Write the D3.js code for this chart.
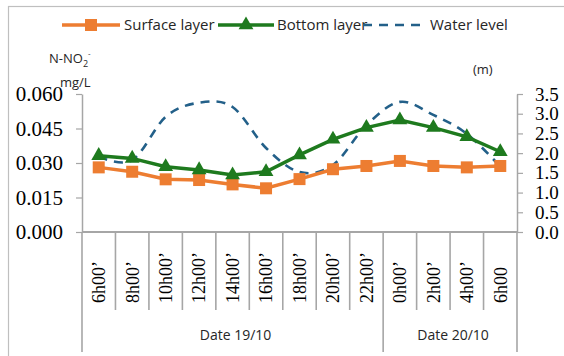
<!DOCTYPE html>
<html>
<head>
<meta charset="utf-8">
<script src="https://cdn.jsdelivr.net/npm/d3@7"></script>
<style>
  html, body { margin: 0; padding: 0; background: #fff; }
  svg { display: block; }
</style>
</head>
<body>
<svg id="chart" width="564" height="356"></svg>
<script>
// Sampling times over the two days
const times = ["6h00’", "8h00’", "10h00’", "12h00’", "14h00’", "16h00’", "18h00’",
               "20h00’", "22h00’", "0h00’", "2h00’", "4h00’", "6h00"];
// Day groups: label and how many sampling times belong to each
const days = [
  { label: "Date 19/10", count: 9 },
  { label: "Date 20/10", count: 4 }
];
// N-NO2- concentration (mg/L)
const surface = [0.0281, 0.0262, 0.0229, 0.0226, 0.0207, 0.0190, 0.0230, 0.0273, 0.0287, 0.0309, 0.0287, 0.0281, 0.0287];
const bottom  = [0.0332, 0.0320, 0.0284, 0.0270, 0.0248, 0.0262, 0.0335, 0.0403, 0.0454, 0.0487, 0.0454, 0.0414, 0.0349];
// Water level (m)
const waterLevel = [1.91, 1.82, 2.92, 3.28, 3.17, 2.13, 1.52, 1.70, 2.71, 3.30, 2.97, 2.49, 1.66];
// Axis ticks
const leftTicks  = [0, 0.015, 0.03, 0.045, 0.06];
const rightTicks = [0, 0.5, 1, 1.5, 2, 2.5, 3, 3.5];

const colors = { surface: "#ED7D31", bottom: "#1E7A1E", water: "#236089", axis: "#A6A6A6" };
const SERIF = "'Liberation Serif', 'DejaVu Serif', serif";
const SANS = "'Open Sans', 'Liberation Sans', sans-serif";

const svg = d3.select("#chart");
const plot = { left: 82, right: 517, top: 94, bottom: 232 };

// Outer frame
svg.append("rect")
  .attr("x", 8.5).attr("y", 6.5)
  .attr("width", 600).attr("height", 400)
  .attr("fill", "none").attr("stroke", "#BFBFBF").attr("stroke-width", 1.2);

const x = d3.scaleBand().domain(times.map((t, i) => i)).range([plot.left, plot.right]).padding(0);
const yL = d3.scaleLinear().domain([0, 0.06]).range([plot.bottom, plot.top]);
const yR = d3.scaleLinear().domain([0, 3.5]).range([plot.bottom, plot.top]);
const cx = i => x(i) + x.bandwidth() / 2;

// Left axis
const leftAxis = svg.append("g")
  .attr("transform", `translate(${plot.left},0)`)
  .call(d3.axisLeft(yL).tickValues(leftTicks).tickFormat(d3.format(".3f")).tickSize(6).tickSizeOuter(0));
leftAxis.attr("font-family", null).attr("font-size", null);
leftAxis.select(".domain").attr("stroke", colors.axis).attr("stroke-width", 1.5);
leftAxis.selectAll(".tick line").attr("stroke", colors.axis).attr("stroke-width", 1.2);
leftAxis.selectAll(".tick text")
  .attr("x", -19)
  .style("font-family", SERIF)
  .style("font-size", "21px").attr("fill", "#000");

// Right axis
const rightAxis = svg.append("g")
  .attr("transform", `translate(${plot.right},0)`)
  .call(d3.axisRight(yR).tickValues(rightTicks).tickFormat(d3.format(".1f")).tickSize(6).tickSizeOuter(0));
rightAxis.attr("font-family", null).attr("font-size", null);
rightAxis.select(".domain").attr("stroke", colors.axis).attr("stroke-width", 1.5);
rightAxis.selectAll(".tick line").attr("stroke", colors.axis).attr("stroke-width", 1.2);
rightAxis.selectAll(".tick text")
  .attr("x", 18)
  .style("font-family", SERIF)
  .style("font-size", "19px").attr("fill", "#000");

// Category axis: baseline, band separators and day separators
const catG = svg.append("g");
catG.append("line")
  .attr("x1", plot.left).attr("x2", plot.right)
  .attr("y1", plot.bottom).attr("y2", plot.bottom)
  .attr("stroke", colors.axis).attr("stroke-width", 2);

const dayEdges = [0];
days.forEach(d => dayEdges.push(dayEdges[dayEdges.length - 1] + d.count));
d3.range(times.length + 1).forEach(i => {
  const xe = i < times.length ? x(i) : plot.right;
  const isDayEdge = dayEdges.includes(i);
  catG.append("line")
    .attr("x1", xe).attr("x2", xe)
    .attr("y1", plot.bottom).attr("y2", isDayEdge ? 352 : 310)
    .attr("stroke", colors.axis).attr("stroke-width", 1.6);
});

// Rotated time labels
catG.selectAll("text.time")
  .data(times)
  .join("text")
  .attr("class", "time")
  .attr("transform", (d, i) => `translate(${cx(i)},303) rotate(-90)`)
  .attr("dy", "0.35em")
  .attr("text-anchor", "start")
  .style("font-family", SERIF)
  .style("font-size", "18px")
  .attr("fill", "#000")
  .text(d => d);

// Day labels
days.forEach((d, k) => {
  const x0 = x(dayEdges[k]);
  const x1 = dayEdges[k + 1] < times.length ? x(dayEdges[k + 1]) : plot.right;
  catG.append("text")
    .attr("x", (x0 + x1) / 2 + 3).attr("y", 340)
    .attr("text-anchor", "middle")
    .style("font-family", SANS)
    .style("font-size", "14px")
    .attr("fill", "#262626")
    .text(d.label);
});

// Water level (smoothed dashed line, right axis)
svg.append("path")
  .datum(waterLevel)
  .attr("fill", "none")
  .attr("stroke", colors.water)
  .attr("stroke-width", 2.6)
  .attr("stroke-dasharray", "9,7")
  .attr("d", d3.line().x((d, i) => cx(i)).y(d => yR(d)).curve(d3.curveCatmullRom.alpha(0)));

// Surface layer
svg.append("path")
  .datum(surface)
  .attr("fill", "none").attr("stroke", colors.surface).attr("stroke-width", 3.5)
  .attr("d", d3.line().x((d, i) => cx(i)).y(d => yL(d)));
svg.selectAll("rect.surf")
  .data(surface)
  .join("rect")
  .attr("class", "surf")
  .attr("x", (d, i) => cx(i) - 6).attr("y", d => yL(d) - 6)
  .attr("width", 12).attr("height", 12)
  .attr("fill", colors.surface);

// Bottom layer
const tri = d3.symbol().type(d3.symbolTriangle).size(95);
svg.append("path")
  .datum(bottom)
  .attr("fill", "none").attr("stroke", colors.bottom).attr("stroke-width", 3.5)
  .attr("d", d3.line().x((d, i) => cx(i)).y(d => yL(d)));
svg.selectAll("path.bot")
  .data(bottom)
  .join("path")
  .attr("class", "bot")
  .attr("transform", (d, i) => `translate(${cx(i)},${yL(d)})`)
  .attr("d", tri)
  .attr("fill", colors.bottom);

// Axis titles
const t1 = svg.append("text")
  .attr("x", 49).attr("y", 63)
  .style("font-family", SANS)
  .style("font-size", "13px").attr("fill", "#262626");
t1.append("tspan").text("N-NO");
t1.append("tspan").style("font-size", "9px").attr("dy", 4).text("2");
t1.append("tspan").style("font-size", "8px").attr("dy", -11).text("-");
svg.append("text")
  .attr("x", 60).attr("y", 87)
  .style("font-family", SANS)
  .style("font-size", "13px").attr("fill", "#262626")
  .text("mg/L");
svg.append("text")
  .attr("x", 473).attr("y", 74)
  .style("font-family", SANS)
  .style("font-size", "13px").attr("fill", "#262626")
  .text("(m)");

// Legend
const legend = svg.append("g").style("font-family", SANS).style("font-size", "15px").attr("fill", "#262626");
const ly = 25;
legend.append("line").attr("x1", 62).attr("x2", 120).attr("y1", ly).attr("y2", ly)
  .attr("stroke", colors.surface).attr("stroke-width", 3.5);
legend.append("rect").attr("x", 85).attr("y", ly - 6).attr("width", 12).attr("height", 12).attr("fill", colors.surface);
legend.append("text").attr("x", 124).attr("y", ly + 5).text("Surface layer");

legend.append("line").attr("x1", 218).attr("x2", 274).attr("y1", ly).attr("y2", ly)
  .attr("stroke", colors.bottom).attr("stroke-width", 3.5);
legend.append("path").attr("transform", `translate(246,${ly})`).attr("d", tri).attr("fill", colors.bottom);
legend.append("text").attr("x", 277).attr("y", ly + 5).text("Bottom layer");

legend.append("line").attr("x1", 363).attr("x2", 426).attr("y1", ly).attr("y2", ly)
  .attr("stroke", colors.water).attr("stroke-width", 2.6).attr("stroke-dasharray", "9,7");
legend.append("text").attr("x", 430).attr("y", ly + 5).text("Water level");
</script>
</body>
</html>
